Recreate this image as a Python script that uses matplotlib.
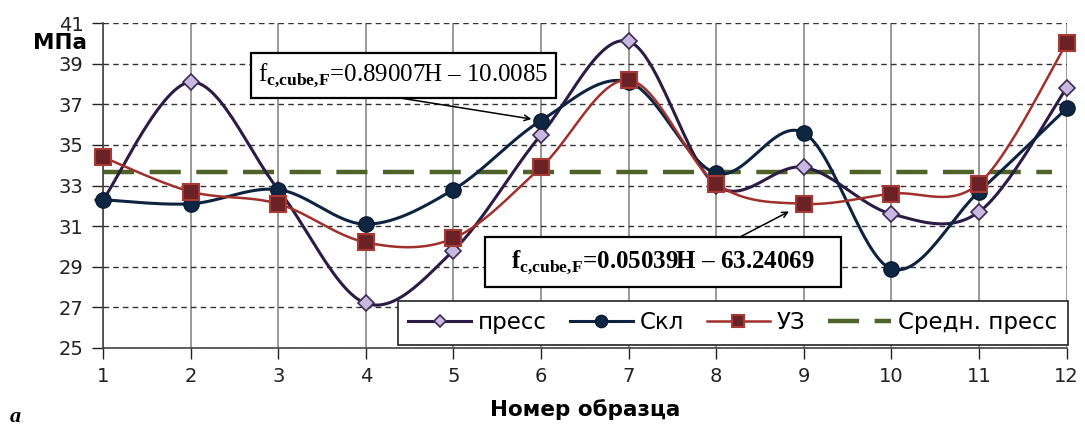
import numpy as np
import matplotlib.pyplot as plt
from matplotlib.patches import Rectangle

# sample numbers and measured strengths, MPa
samples = [1, 2, 3, 4, 5, 6, 7, 8, 9, 10, 11, 12]
press = [32.3, 38.1, 32.8, 27.2, 29.8, 35.5, 40.1, 33.0, 33.9, 31.6, 31.7, 37.8]
skl = [32.3, 32.1, 32.8, 31.1, 32.8, 36.2, 38.1, 33.6, 35.6, 28.9, 32.7, 36.8]
uz = [34.4, 32.7, 32.1, 30.2, 30.4, 33.9, 38.2, 33.1, 32.1, 32.6, 33.1, 40.0]
labels = ['пресс', 'Скл', 'УЗ', 'Средн. пресс']
eq1 = r'$\mathrm{f}_{\mathbf{c{,}cube{,}F}}$=0.89007H – 10.0085'
eq2 = r'$\mathbf{f}_{\mathbf{c{,}cube{,}F}}$=0.05039H – 63.24069'

plt.rcParams['font.family'] = ['DejaVu Sans']
plt.rcParams['mathtext.fontset'] = 'custom'
plt.rcParams['mathtext.rm'] = 'Liberation Serif'
plt.rcParams['mathtext.bf'] = 'Liberation Serif:bold'


def smooth(x, y, n=30):
    # Excel-like smoothed line (Catmull-Rom through the points)
    p = np.column_stack([x, y]).astype(float)
    ext = np.vstack([p[0], p, p[-1]])
    out = []
    t = np.linspace(0, 1, n)[:, None]
    for i in range(len(p) - 1):
        p0, p1, p2, p3 = ext[i], ext[i + 1], ext[i + 2], ext[i + 3]
        c1 = p1 + (p2 - p0) / 6
        c2 = p2 - (p3 - p1) / 6
        seg = ((1 - t) ** 3) * p1 + 3 * ((1 - t) ** 2) * t * c1 + 3 * (1 - t) * t ** 2 * c2 + t ** 3 * p2
        out.append(seg if i == 0 else seg[1:])
    s = np.vstack(out)
    return s[:, 0], s[:, 1]


W, H = 1085, 428
fig = plt.figure(figsize=(W / 100, H / 100), dpi=100)
ax = fig.add_axes([0.095, 0.187, 0.888, 0.759])

styles = [
    (press, dict(color='#2b1b45', lw=2.2), dict(marker='D', ms=8, mfc='#c9b8df', mec='#3a2a55', mew=1.2)),
    (skl, dict(color='#0e2340', lw=2.2), dict(marker='o', ms=11, mfc='#0f2642', mec='#0b1b33', mew=1)),
    (uz, dict(color='#a0302b', lw=1.8), dict(marker='s', ms=11, mfc='#6b2226', mec='#a93a33', mew=1.5)),
]
handles = []
for (vals, lstyle, mstyle), lab in zip(styles, labels):
    xs, ys = smooth(samples, vals)
    ax.plot(xs, ys, clip_on=False, zorder=3, **lstyle)
    ax.plot(samples, vals, ls='none', clip_on=False, zorder=4, **mstyle)
    h, = ax.plot([], [], label=lab, **lstyle, **mstyle)
    handles.append(h)

mean_press = np.mean(press)
hm = ax.axhline(mean_press, xmin=0, xmax=0.985, color='#4f6228', lw=3.2, ls=(0, (7, 3.5)),
                zorder=2, label=labels[3])
handles.append(hm)

ax.set_xlim(1, 12)
ax.set_ylim(25, 41)
ax.set_xticks(samples)
ax.set_yticks(range(25, 42, 2))
ax.tick_params(labelsize=14, length=8, width=1, colors='#222222', pad=6)
ax.yaxis.grid(True, ls=(0, (4, 3)), color='#333333', lw=1)
ax.xaxis.grid(True, color='#888888', lw=1.2)
ax.set_axisbelow(True)
for sp in ['top', 'right']:
    ax.spines[sp].set_visible(False)
for sp in ['left', 'bottom']:
    ax.spines[sp].set_color('#444444')
    ax.spines[sp].set_linewidth(1.2)

leg = ax.legend(handles=handles, loc='lower right', bbox_to_anchor=(1.001, 0.01), ncol=4,
                fontsize=16.5, frameon=True, fancybox=False, framealpha=1, edgecolor='#222222',
                handlelength=2.75, handletextpad=0.3, columnspacing=1.0, borderpad=0.45,
                borderaxespad=0, markerscale=0.8)
leg.get_frame().set_linewidth(1.2)
leg.set_zorder(6)


def eq_box(x0, y0, x1, y1, text, weight, xy, start, shrink):
    # box and text placed in figure pixels (top-left origin, like the reference)
    fig.patches.append(Rectangle((x0 / W, 1 - y1 / H), (x1 - x0) / W, (y1 - y0) / H,
                                 transform=fig.transFigure, fc='white', ec='black', lw=1.6,
                                 zorder=7))
    fig.text((x0 + x1) / 2 / W, 1 - (y0 + y1) / 2 / H, text, ha='center', va='center',
             fontsize=18, family='Liberation Serif', weight=weight, zorder=8)
    ax.annotate('', xy=xy, xytext=(start[0] / W, 1 - start[1] / H), textcoords='figure fraction',
                arrowprops=dict(arrowstyle='->', color='black', lw=1.1, shrinkA=0, shrinkB=shrink),
                zorder=7)


eq_box(251, 53, 556, 98, eq1, 'normal', (6, skl[5]), (400, 98), 7)
eq_box(485, 237, 841, 287, eq2, 'bold', (9, uz[8]), (740, 237), 12)

fig.text(60 / W, 1 - 43 / H, 'МПа', ha='center', va='center', fontsize=15.5, weight='bold')
fig.text(585 / W, 1 - 410 / H, 'Номер образца', ha='center', va='center', fontsize=15.5,
         weight='bold')
fig.text(10 / W, 1 / H, 'а', ha='left', va='bottom', fontsize=16, style='italic',
         weight='bold', family='Liberation Serif')

fig.savefig('out.png', dpi=100)
